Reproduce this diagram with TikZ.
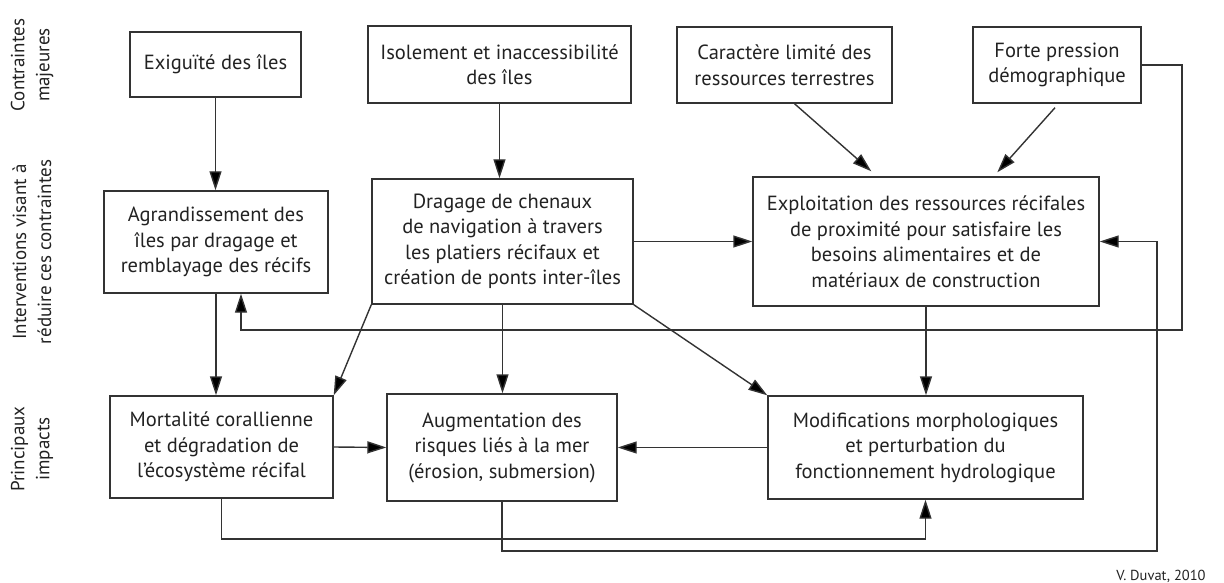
\documentclass[tikz,border=0pt]{standalone}
\usepackage{fontspec}
\setmainfont{PT Sans}
\usetikzlibrary{arrows.meta,calc}
\definecolor{linegray}{HTML}{333333}
\definecolor{txtgray}{HTML}{222222}

\begin{document}
\begin{tikzpicture}[x=1pt,y=-1pt]
        \tikzstyle{every path}=[line width=1.4pt]

        \tikzstyle{box}=[draw=linegray,align=center,inner sep=0pt,text=txtgray,font=\fontsize{20.5}{25.5}\selectfont]
        \tikzstyle{lbl}=[rotate=90,align=center,text=txtgray,font=\fontsize{19}{25}\selectfont]
        \tikzstyle{credit}=[text=txtgray,font=\fontsize{14.5}{16}\selectfont]
        \tikzstyle{arr}=[draw=linegray,-{Triangle[length=19pt,width=12pt,fill=black]}]

        \useasboundingbox (0,0) rectangle (1224,583);

        %row labels on the left
        \node [lbl] (lc) at (32,65) {Contraintes\\majeures};
        \node [lbl] (li) at (32,252) {Interventions visant à\\réduire ces contraintes};
        \node [lbl] (lp) at (32,449) {Principaux\\impacts};

        %major constraints
        \node [box,minimum width=171,minimum height=65] (exig) at (215.5,64.5) {Exiguïté des îles};
        \node [box,minimum width=263,minimum height=77] (isol) at (499.5,64.5) {Isolement et inaccessibilité\\des îles};
        \node [box,minimum width=215,minimum height=76] (cara) at (784.5,65) {Caractère limité des\\ressources terrestres};
        \node [box,minimum width=168,minimum height=76] (forte) at (1057,65) {Forte pression\\démographique};

        %interventions
        \node [box,minimum width=224,minimum height=102] (agra) at (216,242) {Agrandissement des\\îles par dragage et\\remblayage des récifs};
        \node [box,minimum width=261,minimum height=125] (drag) at (502.5,241.5) {Dragage de chenaux\\de navigation à travers\\les platiers récifaux et\\création de ponts inter-îles};
        \node [box,minimum width=346,minimum height=129] (expl) at (926,241.5) {Exploitation des ressources récifales\\de proximité pour satisfaire les\\besoins alimentaires et de\\matériaux de construction};

        %impacts
        \node [box,minimum width=223,minimum height=102] (mort) at (221.5,447) {Mortalité corallienne\\et dégradation de\\l'écosystème récifal};
        \node [box,minimum width=230,minimum height=107] (augm) at (502,447.5) {Augmentation des\\risques liés à la mer\\(érosion, submersion)};
        \node [box,minimum width=315,minimum height=103] (modi) at (925.5,447.5) {Modifications morphologiques\\et perturbation du\\fonctionnement hydrologique};

        \node [credit] (cr) at (1161,576) {V. Duvat, 2010};

        %corners of the feedback lines
        \coordinate (fb) at (1182,330);
        \coordinate (mb) at (600,539);
        \coordinate (ab) at (1157,551);

        %arrows
        \draw [arr] (exig.south) -- (exig.south |- agra.north);
        \draw [arr] (isol.south) -- (isol.south |- drag.north);
        \draw [arr] ($(cara.south)+(10,0)$) -- ($(expl.north west)+(119,-5)$);
        \draw [arr] ($(forte.south)+(-2,4)$) -- ($(expl.north west)+(245,-4)$);
        \draw [arr] (drag.east) -- (expl.west);
        \draw [arr] (forte.east) -| (fb) -| ($(agra.south)+(25,0)$);
        \draw [arr] (agra.south) -- (agra.south |- mort.north);
        \draw [arr] (drag.south west) -- (mort.north east);
        \draw [arr] (drag.south) -- (drag.south |- augm.north);
        \draw [arr] (drag.south east) -- (modi.north west);
        \draw [arr] (expl.south) -- (expl.south |- modi.north);
        \draw [arr] (mort.east) -- (augm.west);
        \draw [arr] (modi.west) -- (augm.east);
        \draw [arr] (mort.south) |- (mb) -| (modi.south);
        \draw [arr] (augm.south) |- (ab) |- (expl.east);
\end{tikzpicture}
\end{document}
